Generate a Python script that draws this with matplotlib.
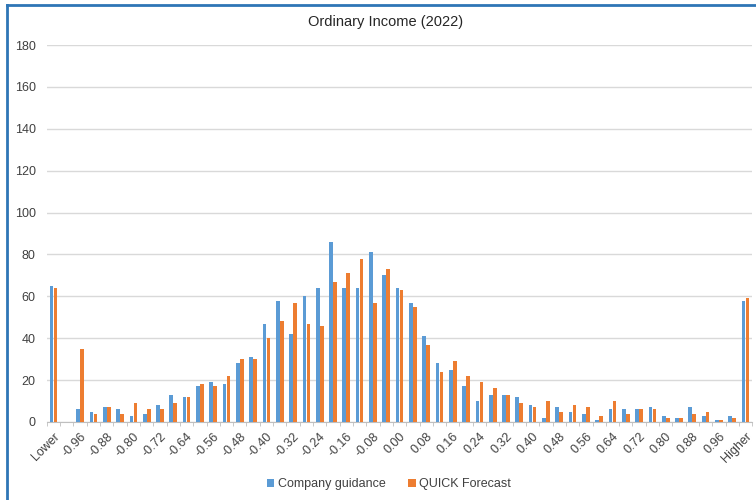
import numpy as np
from matplotlib import pyplot as plt
from matplotlib.lines import Line2D

plt.rcParams['font.family'] = ['Liberation Sans', 'DejaVu Sans']

# Categories: Lower, -1.00 ... 1.00 step 0.04, Higher
mid = ['%.2f' % v for v in np.arange(-1.00, 1.0001, 0.04)]
mid = ['0.00' if m == '-0.00' else m for m in mid]
categories = ['Lower'] + mid + ['Higher']

company = [65, 0, 6, 5, 7, 6, 3, 4, 8, 13, 12, 17, 19, 18, 28, 31,
           47, 58, 42, 60, 64, 86, 64, 64, 81, 70, 64, 57, 41, 28, 25, 17,
           10, 13, 13, 12, 8, 2, 7, 5, 4, 1, 6, 6, 6, 7, 3, 2,
           7, 3, 1, 3, 58]
quick = [64, 0, 35, 4, 7, 4, 9, 6, 6, 9, 12, 18, 17, 22, 30, 30,
         40, 48, 57, 47, 46, 67, 71, 78, 57, 73, 63, 55, 37, 24, 29, 22,
         19, 16, 13, 9, 7, 10, 5, 8, 7, 3, 10, 4, 6, 6, 2, 2,
         4, 5, 1, 2, 59]

blue = '#5B9BD5'
orange = '#ED7D31'

fig = plt.figure(figsize=(7.56, 5.0), dpi=100)
ax = fig.add_axes([0.062, 0.156, 0.933, 0.754])

x = np.arange(len(categories))
w = 0.28
ax.bar(x - 0.15, company, width=w, color=blue, label='Company guidance', zorder=3)
ax.bar(x + 0.15, quick, width=w, color=orange, label='QUICK Forecast', zorder=3)

ax.set_xlim(-0.5, len(categories) - 0.5)
ax.set_ylim(0, 180)
ax.set_yticks(range(0, 181, 20))
ax.yaxis.grid(True, color='#D9D9D9', linewidth=1, zorder=0)
ax.tick_params(axis='y', length=0, labelsize=9, labelcolor='#404040', pad=8)

ax.set_xticks(x[::2])
ax.set_xticklabels(categories[::2], rotation=45, ha='right',
                   rotation_mode='anchor', fontsize=9, color='#404040')
ax.set_xticks(np.arange(-0.5, len(categories), 1), minor=True)
ax.tick_params(axis='x', which='major', length=0, pad=6)
ax.tick_params(axis='x', which='minor', length=3, color='#BFBFBF')

for s in ['top', 'right', 'left']:
    ax.spines[s].set_visible(False)
ax.spines['bottom'].set_color('#BFBFBF')

fig.text(386 / 756, 1 - 22 / 500, 'Ordinary Income (2022)', fontsize=10.5,
         color='#262626', ha='center', va='center')

fig.legend(loc='center', bbox_to_anchor=(389 / 756, 1 - 484 / 500), ncol=2,
           frameon=False, fontsize=9, handlelength=0.6, handleheight=0.6,
           handletextpad=0.3, columnspacing=1.8, labelcolor='#404040')

# blue frame on top and left edges
fig.add_artist(Line2D([7 / 756, 7 / 756], [0, 1 - 5 / 500], color='#2E75B6',
                      linewidth=2, transform=fig.transFigure))
fig.add_artist(Line2D([7 / 756, 1], [1 - 5 / 500, 1 - 5 / 500], color='#2E75B6',
                      linewidth=2, transform=fig.transFigure))

plt.savefig('out.png', dpi=100)
plt.close()
